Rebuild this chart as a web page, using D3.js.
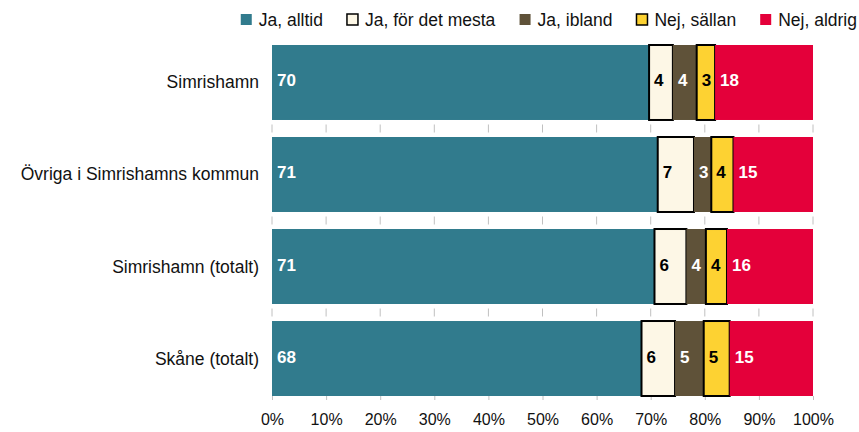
<!DOCTYPE html>
<html>
<head>
<meta charset="utf-8">
<script src="https://cdn.jsdelivr.net/npm/d3@7"></script>
<style>
  body { margin: 0; background: #fff; }
  text { font-family: "Liberation Sans", Arial, sans-serif; }
</style>
</head>
<body>
<svg id="chart" width="859" height="432"></svg>
<script>
// categories and answer series (percent of respondents)
const categories = ["Simrishamn", "Övriga i Simrishamns kommun", "Simrishamn (totalt)", "Skåne (totalt)"];
const seriesNames = ["Ja, alltid", "Ja, för det mesta", "Ja, ibland", "Nej, sällan", "Nej, aldrig"];
const jaAlltid = [69.7, 71.3, 70.7, 68.3];
const jaMesta = [4.4, 6.7, 5.9, 6.2];
const jaIbland = [4.4, 3.2, 3.6, 5.3];
const nejSallan = [3.4, 4.1, 3.9, 4.8];
const nejAldrig = [18.1, 14.7, 15.9, 15.4];
const xTicks = [0, 10, 20, 30, 40, 50, 60, 70, 80, 90, 100];

const colors = ["#317b8d", "#fdf7e6", "#5f5239", "#fdd232", "#e4003a"];
const labelColors = ["#fff", "#000", "#fff", "#000", "#fff"];
const outlined = [false, true, false, true, false];

const allSeries = [jaAlltid, jaMesta, jaIbland, nejSallan, nejAldrig];
const rows = categories.map((c, i) => {
  const r = { cat: c };
  seriesNames.forEach((s, j) => (r[s] = allSeries[j][i]));
  return r;
});

const svg = d3.select("#chart");
const margin = { top: 45, right: 46, bottom: 36, left: 272 };
const width = 859 - margin.left - margin.right,
  height = 432 - margin.top - margin.bottom;

const g = svg.append("g").attr("transform", `translate(${margin.left},${margin.top})`);

const xScale = d3.scaleLinear().domain([0, 100]).range([0, width]);
const yScale = d3.scaleBand().domain(categories).range([0, height]).paddingInner(0.185).paddingOuter(0);

const stacked = d3.stack().keys(seriesNames)(rows);

//===== tick marks in the gaps between bars =====
const gapY = categories.slice(1).map((c) => yScale(c) - (yScale.step() - yScale.bandwidth()) / 2);
gapY.forEach((gy) => {
  g.append("g")
    .selectAll("line")
    .data(xTicks)
    .enter()
    .append("line")
    .attr("x1", (d) => xScale(d))
    .attr("x2", (d) => xScale(d))
    .attr("y1", gy - 4)
    .attr("y2", gy + 4)
    .attr("stroke", "#c0c0c0")
    .attr("stroke-width", 1);
});

//===== x axis =====
const xAxis = d3.axisBottom(xScale).tickValues(xTicks).tickFormat((d) => d + "%").tickSize(4).tickPadding(14);
const xAxisG = g.append("g").attr("transform", `translate(0,${height})`).call(xAxis);
xAxisG.select(".domain").remove();
xAxisG.selectAll("line").attr("stroke", "#c0c0c0");
xAxisG.selectAll("text").style("font-size", "16px").attr("fill", "#111").style("font-family", '"Liberation Sans", Arial, sans-serif');

//===== bars =====
const layers = g
  .selectAll("g.layer")
  .data(stacked)
  .enter()
  .append("g")
  .attr("class", "layer");

layers
  .selectAll("rect")
  .data((d) => d.map((p) => ({ p: p, idx: d.index })))
  .enter()
  .append("rect")
  .attr("x", (d) => xScale(d.p[0]))
  .attr("y", (d) => yScale(d.p.data.cat))
  .attr("width", (d) => xScale(d.p[1]) - xScale(d.p[0]))
  .attr("height", yScale.bandwidth())
  .attr("fill", (d) => colors[d.idx])
  .attr("stroke", (d) => (outlined[d.idx] ? "#000" : "none"))
  .attr("stroke-width", 2);

layers
  .selectAll("text")
  .data((d) => d.map((p) => ({ p: p, idx: d.index })))
  .enter()
  .append("text")
  .attr("x", (d) => xScale(d.p[0]) + 5)
  .attr("y", (d) => yScale(d.p.data.cat) + yScale.bandwidth() / 2 + 4)
  .attr("fill", (d) => labelColors[d.idx])
  .style("font-size", "17px")
  .style("font-weight", "bold")
  .text((d) => Math.round(d.p[1] - d.p[0]));

//===== category labels =====
g.selectAll("text.cat")
  .data(categories)
  .enter()
  .append("text")
  .attr("class", "cat")
  .attr("x", -13)
  .attr("y", (d) => yScale(d) + yScale.bandwidth() / 2 + 6)
  .attr("text-anchor", "end")
  .attr("fill", "#111")
  .style("font-size", "17.5px")
  .text((d) => d);

//===== legend =====
const legend = svg.append("g");
const items = legend
  .selectAll("g")
  .data(seriesNames)
  .enter()
  .append("g");
items
  .append("rect")
  .attr("width", 11)
  .attr("height", 11)
  .attr("y", 14)
  .attr("fill", (d, i) => colors[i])
  .attr("stroke", (d, i) => (outlined[i] ? "#000" : "none"))
  .attr("stroke-width", 1.5);
items
  .append("text")
  .attr("x", 18)
  .attr("y", 26)
  .attr("fill", "#111")
  .style("font-size", "17.5px")
  .text((d) => d);
// lay out legend items right aligned
let widths = [];
items.each(function () {
  widths.push(this.getBBox().width);
});
let total = d3.sum(widths) + 24 * (widths.length - 1);
let xPos = 857 - total;
items.attr("transform", (d, i) => {
  const t = `translate(${xPos},0)`;
  xPos += widths[i] + 24;
  return t;
});
</script>
</body>
</html>
